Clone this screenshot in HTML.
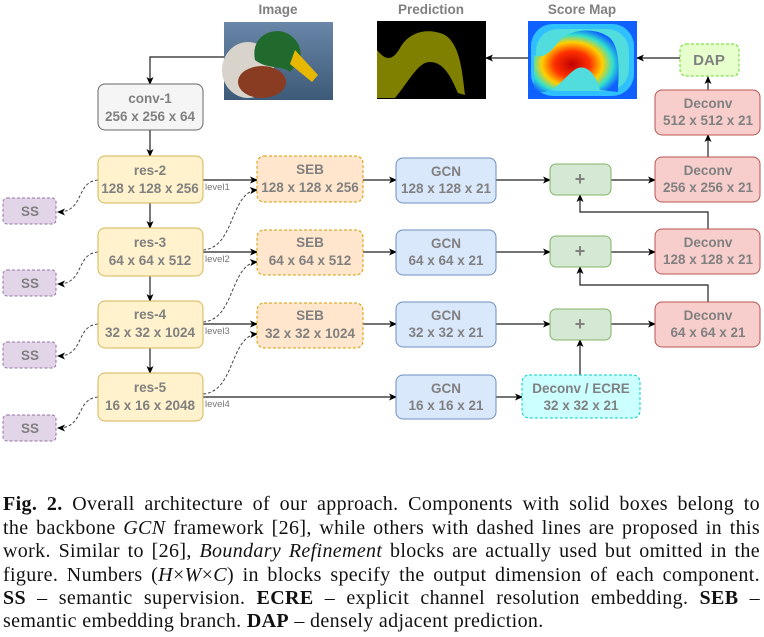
<!DOCTYPE html>
<html><head><meta charset="utf-8"><style>
body{margin:0;background:#fff;width:764px;height:637px;overflow:hidden;position:relative}
svg{position:absolute;left:0;top:0}
.bt{font-family:"Liberation Sans",sans-serif;font-weight:bold;font-size:13.5px;fill:#808080;text-anchor:middle}
.ln{position:absolute;left:3px;width:757px;font-family:"Liberation Serif",serif;font-size:20px;letter-spacing:0.35px;line-height:23px;white-space:nowrap;text-align:justify;text-align-last:justify;color:#111}
.ln.last{text-align-last:left}
</style></head><body>
<svg width="764" height="480">
<defs>
<marker id="ar" markerWidth="8" markerHeight="8" refX="7" refY="4" orient="auto" markerUnits="userSpaceOnUse"><path d="M0,0.5 L8,4 L0,7.5 L2,4z" fill="#000"/></marker>
<radialGradient id="heat" cx="0.45" cy="0.55" r="0.6"><stop offset="0" stop-color="#c00000"/><stop offset="0.35" stop-color="#ff3000"/><stop offset="0.6" stop-color="#ffd000"/><stop offset="0.8" stop-color="#30e0d0"/><stop offset="1" stop-color="#1060ff"/></radialGradient>
<linearGradient id="water" x1="0" y1="0" x2="0" y2="1"><stop offset="0" stop-color="#6a86a8"/><stop offset="1" stop-color="#3d5a78"/></linearGradient>
</defs>
<g fill="none" stroke="#222" stroke-width="1.2">
<path d="M224,57 H150 V84" marker-end="url(#ar)"/>
<path d="M150,130 V156" marker-end="url(#ar)"/>
<path d="M150,203 V228" marker-end="url(#ar)"/>
<path d="M150,276 V301" marker-end="url(#ar)"/>
<path d="M150,348 V373" marker-end="url(#ar)"/>
<path d="M203,180 H257" marker-end="url(#ar)"/>
<path d="M203,252 H257" marker-end="url(#ar)"/>
<path d="M203,324 H257" marker-end="url(#ar)"/>
<path d="M203,397 H396" marker-end="url(#ar)"/>
<path d="M363,180 H396" marker-end="url(#ar)"/>
<path d="M363,252 H396" marker-end="url(#ar)"/>
<path d="M363,324 H396" marker-end="url(#ar)"/>
<path d="M496,180 H550" marker-end="url(#ar)"/>
<path d="M496,252 H550" marker-end="url(#ar)"/>
<path d="M496,324 H550" marker-end="url(#ar)"/>
<path d="M496,397 H522" marker-end="url(#ar)"/>
<path d="M611,180 H655" marker-end="url(#ar)"/>
<path d="M611,252 H655" marker-end="url(#ar)"/>
<path d="M611,324 H655" marker-end="url(#ar)"/>
<path d="M580,375 V340" marker-end="url(#ar)"/>
<path d="M708,229 V212 H580 V195" marker-end="url(#ar)"/>
<path d="M708,302 V285 H580 V267" marker-end="url(#ar)"/>
<path d="M708,157 V135" marker-end="url(#ar)"/>
<path d="M708,90 V77" marker-end="url(#ar)"/>
<path d="M680,58 H637" marker-end="url(#ar)"/>
<path d="M528,58 H486" marker-end="url(#ar)"/>
</g>
<g fill="none" stroke="#444" stroke-width="1" stroke-dasharray="3,2">
<path d="M98,180 C75,182 85,212 58,212" marker-end="url(#ar)"/>
<path d="M98,252 C75,254 85,284 58,284" marker-end="url(#ar)"/>
<path d="M98,324 C75,326 85,356 58,356" marker-end="url(#ar)"/>
<path d="M98,397 C75,399 85,428 58,428" marker-end="url(#ar)"/>
<path d="M203,250 C235,248 230,192 257,190" marker-end="url(#ar)"/>
<path d="M203,322 C235,320 230,264 257,262" marker-end="url(#ar)"/>
<path d="M203,394 C235,392 230,336 257,334" marker-end="url(#ar)"/>
</g>
<g font-family="Liberation Sans,sans-serif" font-size="9.5" fill="#777">
<text x="205" y="190">level1</text><text x="205" y="262">level2</text><text x="205" y="334">level3</text><text x="205" y="407">level4</text>
</g>
<g class="bt"><text x="278" y="14" class="bt">Image</text><text x="431" y="14" class="bt">Prediction</text><text x="582" y="14" class="bt">Score Map</text></g>
<g>
<rect x="224" y="22" width="109" height="78" fill="url(#water)"/>
<ellipse cx="248" cy="70" rx="26" ry="28" fill="#d8d4cc"/>
<ellipse cx="262" cy="82" rx="24" ry="16" fill="#8a3c22"/>
<path d="M255,60 C250,35 275,25 290,35 C300,42 302,52 300,60 L290,72 C282,65 268,70 255,60z" fill="#1f6a2c"/>
<path d="M295,50 L318,75 L312,82 L290,64z" fill="#e8b800"/>
</g>
<g>
<rect x="377" y="21" width="109" height="78" fill="#000"/>
<path d="M377,50 C385,60 392,62 400,48 C410,30 430,28 445,35 C460,45 462,70 465,95 L458,93 C452,80 445,62 430,62 C418,62 410,80 395,98 L377,98z" fill="#808000"/>
</g>
<g>
<rect x="528" y="21" width="109" height="78" fill="#1060ff"/>
<rect x="531" y="24" width="103" height="72" rx="22" fill="#30c0ff"/>
<rect x="536" y="29" width="93" height="62" rx="22" fill="#60e8d0" opacity="0.7"/>
<path d="M534,55 C545,60 552,50 562,38 C575,28 598,28 610,38 C622,50 618,80 618,92 L600,90 C596,75 588,65 578,68 C568,72 560,88 545,92 L534,92z" fill="url(#heat)"/>
</g>
<g stroke-width="1">
<rect x="98" y="84" width="105" height="46" rx="7" fill="#f5f5f5" stroke="#666"/>
<rect x="98" y="156" width="105" height="47" rx="7" fill="#fff2cc" stroke="#d6b656"/>
<rect x="98" y="228" width="105" height="48" rx="7" fill="#fff2cc" stroke="#d6b656"/>
<rect x="98" y="301" width="105" height="47" rx="7" fill="#fff2cc" stroke="#d6b656"/>
<rect x="98" y="373" width="105" height="48" rx="7" fill="#fff2cc" stroke="#d6b656"/>
<g fill="#ffe6cc" stroke="#d79b00" stroke-dasharray="3,2">
<rect x="257" y="156" width="106" height="46" rx="7"/>
<rect x="257" y="230" width="106" height="45" rx="7"/>
<rect x="257" y="303" width="106" height="45" rx="7"/>
</g>
<g fill="#dae8fc" stroke="#6c8ebf">
<rect x="396" y="158" width="100" height="45" rx="7"/>
<rect x="396" y="230" width="100" height="45" rx="7"/>
<rect x="396" y="302" width="100" height="45" rx="7"/>
<rect x="396" y="375" width="100" height="44" rx="7"/>
</g>
<g fill="#d5e8d4" stroke="#82b366">
<rect x="550" y="164" width="61" height="31" rx="6"/>
<rect x="550" y="236" width="61" height="31" rx="6"/>
<rect x="550" y="309" width="61" height="31" rx="6"/>
</g>
<g fill="#f8cecc" stroke="#b85450">
<rect x="655" y="90" width="105" height="45" rx="7"/>
<rect x="655" y="157" width="105" height="45" rx="7"/>
<rect x="655" y="229" width="105" height="45" rx="7"/>
<rect x="655" y="302" width="105" height="45" rx="7"/>
</g>
<rect x="680" y="44" width="59" height="32" rx="6" fill="#e6ffcc" stroke="#66dd22" stroke-dasharray="3,2"/>
<rect x="522" y="375" width="118" height="43" rx="7" fill="#ccffff" stroke="#00cccc" stroke-dasharray="3,2"/>
<g fill="#e1d5e7" stroke="#9673a6" stroke-dasharray="3,2">
<rect x="3" y="198" width="53" height="26" rx="4"/>
<rect x="3" y="270" width="53" height="26" rx="4"/>
<rect x="3" y="342" width="53" height="26" rx="4"/>
<rect x="3" y="415" width="53" height="26" rx="4"/>
</g>
</g>
<g class="bt">
<text x="150" y="103">conv-1</text><text x="150" y="121">256 x 256 x 64</text>
<text x="150" y="175">res-2</text><text x="150" y="193">128 x 128 x 256</text>
<text x="150" y="247">res-3</text><text x="150" y="265">64 x 64 x 512</text>
<text x="150" y="319">res-4</text><text x="150" y="337">32 x 32 x 1024</text>
<text x="150" y="392">res-5</text><text x="150" y="410">16 x 16 x 2048</text>
<text x="310" y="174">SEB</text><text x="310" y="192">128 x 128 x 256</text>
<text x="310" y="247">SEB</text><text x="310" y="265">64 x 64 x 512</text>
<text x="310" y="320">SEB</text><text x="310" y="338">32 x 32 x 1024</text>
<text x="446" y="176">GCN</text><text x="446" y="193">128 x 128 x 21</text>
<text x="446" y="248">GCN</text><text x="446" y="265">64 x 64 x 21</text>
<text x="446" y="320">GCN</text><text x="446" y="337">32 x 32 x 21</text>
<text x="446" y="393">GCN</text><text x="446" y="410">16 x 16 x 21</text>
<text x="580" y="185" font-size="18">+</text><text x="580" y="257" font-size="18">+</text><text x="580" y="330" font-size="18">+</text>
<text x="708" y="108">Deconv</text><text x="708" y="125">512 x 512 x 21</text>
<text x="708" y="175">Deconv</text><text x="708" y="192">256 x 256 x 21</text>
<text x="708" y="247">Deconv</text><text x="708" y="264">128 x 128 x 21</text>
<text x="708" y="320">Deconv</text><text x="708" y="337">64 x 64 x 21</text>
<text x="709" y="65" font-size="15">DAP</text>
<text x="581" y="393">Deconv / ECRE</text><text x="581" y="410">32 x 32 x 21</text>
<text x="30" y="216">SS</text><text x="30" y="288">SS</text><text x="30" y="360">SS</text><text x="30" y="433">SS</text>
</g>
</svg>
<div>
<div class="ln" style="top:493px"><b>Fig. 2.</b> Overall architecture of our approach. Components with solid boxes belong to</div>
<div class="ln" style="top:517px">the backbone <i>GCN</i> framework [26], while others with dashed lines are proposed in this</div>
<div class="ln" style="top:540px">work. Similar to [26], <i>Boundary Refinement</i> blocks are actually used but omitted in the</div>
<div class="ln" style="top:564px">figure. Numbers (<i>H</i>×<i>W</i>×<i>C</i>) in blocks specify the output dimension of each component.</div>
<div class="ln" style="top:587px"><b>SS</b> – semantic supervision. <b>ECRE</b> – explicit channel resolution embedding. <b>SEB</b> –</div>
<div class="ln last" style="top:610px">semantic embedding branch. <b>DAP</b> – densely adjacent prediction.</div>
</div>
</body></html>
